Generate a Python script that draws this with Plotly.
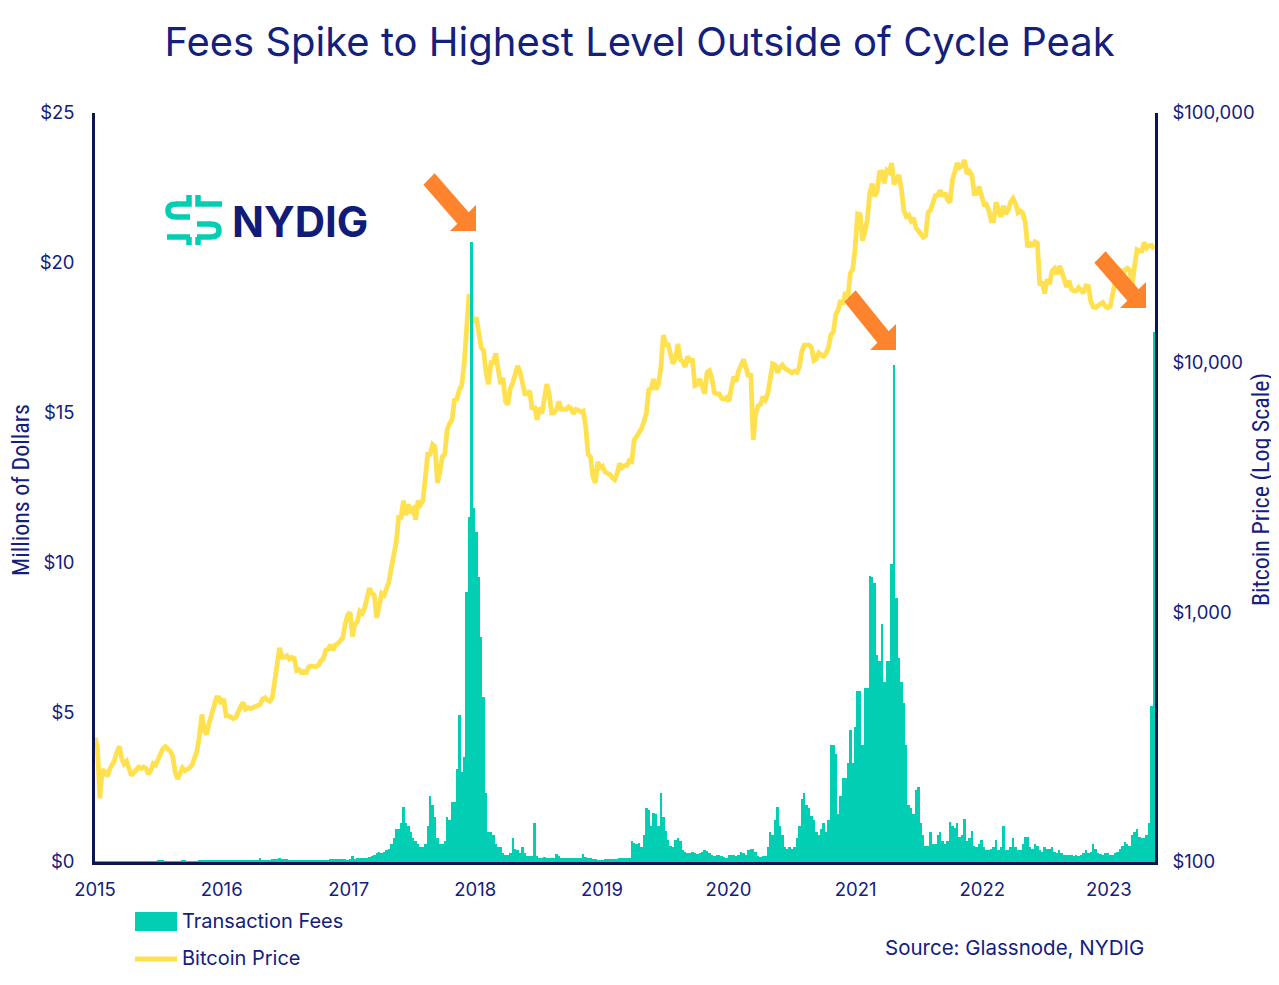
import pandas as pd
import plotly.graph_objects as go

# ---------------- data (weekly samples, first week starting 2015-01-01) ----------------
fees_2015 = [0.02, 0.03, 0.03, 0.02, 0.02, 0.02, 0.02, 0.02, 0.02, 0.02,
             0.03, 0.02, 0.02, 0.02, 0.02, 0.02, 0.02, 0.02, 0.02, 0.02,
             0.02, 0.02, 0.02, 0.03, 0.03, 0.03, 0.04, 0.05, 0.04, 0.03,
             0.03, 0.03, 0.03, 0.03, 0.03, 0.03, 0.04, 0.04, 0.03, 0.03,
             0.03, 0.03, 0.03, 0.04, 0.05, 0.04, 0.04, 0.04, 0.04, 0.05,
             0.05, 0.05]
fees_2016 = [0.05, 0.06, 0.06, 0.05, 0.05, 0.05, 0.06, 0.06, 0.07, 0.07,
             0.06, 0.06, 0.07, 0.07, 0.07, 0.08, 0.15, 0.08, 0.08, 0.08,
             0.08, 0.09, 0.09, 0.1, 0.12, 0.1, 0.09, 0.09, 0.08, 0.08,
             0.08, 0.08, 0.07, 0.07, 0.07, 0.07, 0.07, 0.07, 0.07, 0.07,
             0.07, 0.07, 0.08, 0.08, 0.08, 0.09, 0.09, 0.09, 0.1, 0.1,
             0.1, 0.1]
fees_2017 = [0.08, 0.1, 0.2, 0.1, 0.12, 0.12, 0.13, 0.15, 0.15, 0.18,
             0.2, 0.25, 0.3, 0.32, 0.3, 0.35, 0.4, 0.45,
             0.6, 0.8, 1.1, 1.1, 1.3, 1.85, 1.3, 1.2, 1.0, 0.8,
             0.7, 0.6, 0.5, 0.5, 0.6, 1.2, 2.2, 1.9, 1.5, 0.8,
             0.6, 0.6, 0.7, 1.5, 1.4, 2.0, 2.0, 3.1, 4.9, 3.0,
             3.5, 9.0, 11.5, 20.7]
fees_2018 = [11.8, 11.0, 9.5, 7.5, 5.5, 2.3, 1.0, 1.0, 0.9, 0.6,
             0.5, 0.5, 0.3, 0.25, 0.25, 0.3, 0.8, 0.45, 0.4, 0.3,
             0.5, 0.3, 0.2, 0.2, 0.2, 1.3, 0.2, 0.15, 0.15, 0.18,
             0.15, 0.14, 0.14, 0.14, 0.27, 0.2, 0.15, 0.14, 0.15, 0.14,
             0.13, 0.13, 0.14, 0.13, 0.13, 0.27, 0.18, 0.13, 0.12, 0.1,
             0.09, 0.08]
fees_2019 = [0.08, 0.08, 0.09, 0.09, 0.1, 0.1, 0.1, 0.11, 0.12, 0.13,
             0.14, 0.15, 0.15, 0.7, 0.65, 0.6, 0.65, 0.5, 0.9, 1.8,
             1.75, 1.2, 1.65, 1.6, 1.2, 2.3, 1.5, 1.05, 0.75, 0.55,
             0.5, 0.75, 0.8, 0.7, 0.4, 0.35, 0.3, 0.3, 0.32, 0.3,
             0.28, 0.3, 0.35, 0.4, 0.38, 0.3, 0.25, 0.2, 0.25, 0.22,
             0.2, 0.18]
fees_2020 = [0.15, 0.25, 0.22, 0.25, 0.2, 0.22, 0.35, 0.3, 0.25, 0.4,
             0.45, 0.45, 0.35, 0.2, 0.18, 0.2, 0.2, 0.5, 1.0, 0.9,
             1.4, 1.85, 1.2, 0.9, 0.5, 0.45, 0.5, 0.45, 0.5, 0.8,
             1.2, 2.1, 2.3, 1.9, 1.8, 1.55, 1.4, 1.0, 0.9, 1.1,
             1.3, 1.0, 1.4, 3.9, 3.9, 3.6, 1.6, 2.2, 2.8, 2.8,
             3.3, 4.4, 3.3]
fees_2021 = [4.5, 5.7, 5.7, 3.9, 5.8, 5.8, 9.55, 9.5, 9.3, 6.9,
             6.7, 7.95, 6.0, 6.7, 6.7, 9.95, 16.6, 8.8, 6.8, 6.0,
             5.3, 3.9, 1.9, 1.8, 1.6, 2.4, 2.5, 1.3, 0.9, 0.55,
             0.55, 1.0, 0.6, 0.6, 0.9, 1.0, 0.7, 0.6, 0.7, 1.35,
             1.2, 1.15, 1.3, 0.85, 0.9, 1.45, 0.7, 0.8, 1.05, 0.55,
             0.5, 0.6]
fees_2022 = [0.75, 0.5, 0.4, 0.4, 0.45, 0.5, 0.75, 0.4, 0.5, 1.2,
             0.4, 0.4, 0.5, 0.8, 0.5, 0.4, 0.4, 0.6, 0.85, 0.85,
             0.5, 0.45, 0.6, 0.55, 0.4, 0.35, 0.5, 0.45, 0.45, 0.5,
             0.35, 0.3, 0.4, 0.3, 0.25, 0.22, 0.22, 0.22, 0.2, 0.22,
             0.2, 0.22, 0.3, 0.4, 0.3, 0.35, 0.6, 0.45, 0.3, 0.28,
             0.25, 0.3]
fees_2023 = [0.3, 0.25, 0.25, 0.3, 0.35, 0.45, 0.55, 0.67, 0.6, 0.55,
             0.9, 1.0, 1.1, 0.85, 0.8, 0.8, 0.9, 1.3, 5.2, 17.7]

price_2015 = [315, 290, 180, 235, 230, 220, 235, 245, 255, 275,
              290, 260, 247, 253, 236, 222, 228, 235, 240, 237,
              240, 237, 225, 232, 248, 245, 258, 270, 285, 290,
              285, 278, 265, 230, 215, 230, 238, 232, 235, 238,
              245, 262, 278, 320, 390, 335, 325, 360, 385, 415,
              455, 455]
price_2016 = [430, 450, 385, 385, 380, 375, 380, 405, 420, 435,
              410, 415, 412, 415, 418, 422, 428, 450, 455, 445,
              440, 455, 530, 575, 720, 660, 660, 670, 650, 660,
              655, 585, 590, 575, 580, 575, 605, 610, 605, 605,
              615, 640, 650, 705, 710, 740, 705, 740, 750, 770,
              790, 895]
price_2017 = [975, 1000, 800, 900, 915, 1010, 990, 1040, 1170, 1250,
              1190, 1170, 950, 1040, 1190, 1170, 1230, 1320, 1510, 1720,
              1900, 2400, 2400, 2800, 2450, 2700, 2550, 2600, 2350, 2800,
              2700, 2800, 3400, 4300, 4300, 4700, 4600, 3300, 3650, 4200,
              4300, 5400, 5700, 5900, 7100, 7150, 7800, 8100, 9900, 13700,
              18800, 15500]
price_2018 = [14500, 15200, 13400, 11500, 11200, 9100, 8200, 10000, 10000, 10900,
              9400, 8200, 8700, 7000, 6800, 7900, 8300, 8900, 9700, 9200,
              8100, 7500, 7500, 7700, 6500, 6700, 5900, 6600, 6250, 7400,
              8200, 7500, 6300, 6300, 6500, 7000, 6500, 6500, 6500, 6650,
              6550, 6250, 6500, 6450, 6350, 6400, 5600, 4300, 4200, 3500,
              3300, 4000]
price_2019 = [3800, 3850, 3650, 3600, 3570, 3450, 3400, 3600, 3950, 3800,
              3870, 3870, 4050, 4020, 4900, 5050, 5250, 5450, 5800, 6300,
              7800, 7900, 8600, 7800, 8200, 9600, 12900, 11900, 11800, 10600,
              9900, 10400, 11900, 10300, 10100, 9600, 10600, 10200, 10200, 8100,
              8200, 8600, 8000, 7500, 9150, 9300, 8650, 7600, 7500, 7500,
              7200, 7150]
price_2020 = [7250, 7000, 7900, 8800, 8400, 9300, 9750, 10300, 9600, 8800,
              9050, 4900, 6200, 6700, 6800, 7300, 7100, 7500, 8600, 9900,
              9800, 9100, 9600, 9800, 9500, 9400, 9250, 9100, 9250, 9150,
              9600, 11100, 11750, 11800, 11750, 11500, 10200, 10350, 10950, 10750,
              10600, 10900, 11500, 12950, 13250, 15600, 16300, 17800, 17100, 19200,
              18250, 22800, 23700]
price_2021 = [29000, 39500, 39200, 30800, 33400, 37600, 47900, 52100, 46400, 48500,
              57800, 58000, 52300, 59000, 58000, 63000, 51700, 53800, 56500, 49700,
              40700, 38500, 39000, 37000, 38000, 34700, 33500, 32800, 31800, 32300,
              40000, 40800, 44500, 46700, 46900, 49000, 46300, 47800, 44800, 43800,
              53800, 57500, 63000, 60500, 61500, 64800, 57000, 58500, 56500, 47500,
              47600, 50800]
price_2022 = [47100, 43000, 43100, 40700, 37000, 37000, 43900, 40500, 38300, 42500,
              39400, 40900, 44000, 45500, 43500, 39900, 40500, 39700, 36500, 29000,
              30300, 29200, 30500, 30100, 20400, 21100, 18900, 21600, 20600, 23200,
              23800, 22600, 24400, 23300, 21500, 20100, 21300, 19700, 19400, 19400,
              20000, 19400, 19000, 20300, 20200, 17600, 16700, 16600, 17000, 17200,
              17400, 16800]
price_2023 = [16600, 16800, 18800, 21100, 23000, 23700, 21800, 23500, 23900, 23500,
              20400, 24300, 28300, 28000, 28000, 30300, 28800, 29400, 29500, 28500]

fee_tickvals = [0, 5, 10, 15, 20, 25]
fee_ticktext = ["$0", "$5", "$10", "$15", "$20", "$25"]
price_tickvals = [100, 1000, 10000, 100000]
price_ticktext = ["$100", "$1,000", "$10,000", "$100,000"]
year_ticks = ["2015-01-01", "2016-01-01", "2017-01-01", "2018-01-01", "2019-01-01",
              "2020-01-01", "2021-01-01", "2022-01-01", "2023-01-01"]
year_labels = ["2015", "2016", "2017", "2018", "2019", "2020", "2021", "2022", "2023"]

fees = (fees_2015 + fees_2016 + fees_2017 + fees_2018 + fees_2019 +
        fees_2020 + fees_2021 + fees_2022 + fees_2023)
price = (price_2015 + price_2016 + price_2017 + price_2018 + price_2019 +
         price_2020 + price_2021 + price_2022 + price_2023)
fee_dates = pd.date_range("2015-01-01", periods=len(fees), freq="7D")
price_dates = pd.date_range("2015-01-01", periods=len(price), freq="7D")

# ---------------- style ----------------
OFF = 8                      # page body margin of the html file
W, H = 1279 - OFF, 985 - OFF
L, R, T, B = 95, 1155, 113, 862   # plot area in page pixels
NAVY = "#13207E"
AXIS = "#0B1650"
TEAL = "#02CEB3"
YELLOW = "#FFE14F"
ORANGE = "#FD842C"
FONT = "Inter, Roboto, sans-serif"
NARROW = "Liberation Sans Narrow, Roboto Condensed, Roboto, sans-serif"


def px(x):
    return (x - L) / (R - L)


def py(y):
    return (B - y) / (B - T)


def pts_path(points, close=True):
    s = "M " + " L ".join(f"{px(a):.5f},{py(b):.5f}" for a, b in points)
    return s + (" Z" if close else "")


def arrow_path(tail, tip, head=26, half=8):
    tx, ty = tip
    sx, sy = tail
    mx, my = tx - head / 2, ty - head / 2
    k = half / 2 ** 0.5
    pts = [(sx + k, sy - k), (mx + k, my - k), (tx, ty - head), (tx, ty),
           (tx - head, ty), (mx - k, my + k), (sx - k, sy + k)]
    return pts_path(pts)


fig = go.Figure()
fig.add_trace(go.Scatter(x=price_dates, y=price, yaxis="y", mode="lines",
                         line=dict(color=YELLOW, width=4.8), name="Bitcoin Price",
                         showlegend=False, hoverinfo="skip"))
fig.add_trace(go.Bar(x=fee_dates, y=fees, yaxis="y2", name="Transaction Fees",
                     marker=dict(color=TEAL, line=dict(width=0)),
                     showlegend=False))

shapes = []
# arrows
for tail, tip in [((429, 179), (476, 231)), ((850, 296), (896, 350)), ((1100, 257), (1146, 308))]:
    shapes.append(dict(type="path", xref="paper", yref="paper", path=arrow_path(tail, tip),
                       fillcolor=ORANGE, line=dict(width=0), layer="above"))

# logo icon (stroked paths)
logo_paths = [
    [(189, 195), (189, 204), (176, 204)],
    [(198, 195), (198, 204), (222, 204)],
    [(197, 224), (211, 224)],
    [(189, 237), (189, 245)],
    [(198, 237), (198, 245)],
    [(167, 237), (190, 237)],
]
for p in logo_paths:
    shapes.append(dict(type="path", xref="paper", yref="paper", path=pts_path(p, close=False),
                       line=dict(color=TEAL, width=5.5)))
curve1 = (f"M {px(177):.5f},{py(204):.5f} Q {px(168):.5f},{py(204):.5f} {px(168):.5f},{py(210.5):.5f} "
          f"Q {px(168):.5f},{py(217):.5f} {px(177):.5f},{py(217):.5f} L {px(190):.5f},{py(217):.5f}")
curve2 = (f"M {px(210):.5f},{py(224):.5f} Q {px(219):.5f},{py(224):.5f} {px(219):.5f},{py(230.5):.5f} "
          f"Q {px(219):.5f},{py(237):.5f} {px(210):.5f},{py(237):.5f} L {px(197):.5f},{py(237):.5f}")
for c in (curve1, curve2):
    shapes.append(dict(type="path", xref="paper", yref="paper", path=c,
                       line=dict(color=TEAL, width=5.5)))

# custom legend marks
shapes.append(dict(type="rect", xref="paper", yref="paper",
                   x0=px(135), x1=px(177), y0=py(931), y1=py(912),
                   fillcolor=TEAL, line=dict(width=0)))
shapes.append(dict(type="line", xref="paper", yref="paper",
                   x0=px(135), x1=px(177), y0=py(959), y1=py(959),
                   line=dict(color=YELLOW, width=5)))

annotations = [
    dict(text="<b>NYDIG</b>", xref="paper", yref="paper", x=px(230), y=py(222),
         xanchor="left", yanchor="middle", showarrow=False,
         font=dict(family=FONT, size=42, color="#101C78")),
    dict(text="Millions of Dollars", xref="paper", yref="paper", x=px(21), y=py(490),
         xanchor="center", yanchor="middle", textangle=-90, showarrow=False,
         font=dict(family=NARROW, size=24, color=NAVY)),
    dict(text="Bitcoin Price (Log Scale)", xref="paper", yref="paper", x=px(1261), y=py(490),
         xanchor="center", yanchor="middle", textangle=-90, showarrow=False,
         font=dict(family=NARROW, size=24, color=NAVY)),
    dict(text="Transaction Fees", xref="paper", yref="paper", x=px(180), y=py(921),
         xanchor="left", yanchor="middle", showarrow=False,
         font=dict(family=FONT, size=20, color=NAVY)),
    dict(text="Bitcoin Price", xref="paper", yref="paper", x=px(180), y=py(958),
         xanchor="left", yanchor="middle", showarrow=False,
         font=dict(family=FONT, size=20, color=NAVY)),
    dict(text="Source: Glassnode, NYDIG", xref="paper", yref="paper", x=px(1146), y=py(947),
         xanchor="right", yanchor="middle", showarrow=False,
         font=dict(family=FONT, size=20.5, color=NAVY)),
]

fig.update_layout(
    width=W, height=H,
    margin=dict(l=L - OFF, r=W - (R - OFF), t=T - OFF, b=H - (B - OFF), pad=0),
    paper_bgcolor="white", plot_bgcolor="white",
    font=dict(family=FONT, color=NAVY),
    title=dict(text="Fees Spike to Highest Level Outside of Cycle Peak",
               x=(639.5 - OFF) / W, xanchor="center", y=1 - (42 - OFF) / H, yanchor="middle",
               font=dict(family=FONT, size=40, color=NAVY)),
    bargap=0,
    showlegend=False,
    xaxis=dict(type="date", range=["2015-01-01", "2023-05-14"],
               tickvals=year_ticks, ticktext=year_labels, ticks="",
               showline=True, linecolor=AXIS, linewidth=2.5, showgrid=False, zeroline=False,
               tickfont=dict(family=FONT, size=18.5, color=NAVY), ticklabelstandoff=9),
    yaxis=dict(type="log", side="right", range=[2, 5],
               tickvals=price_tickvals, ticktext=price_ticktext, ticks="",
               showline=True, linecolor=AXIS, linewidth=2.5, showgrid=False, zeroline=False,
               tickfont=dict(family=FONT, size=18.5, color=NAVY), ticklabelstandoff=11),
    yaxis2=dict(overlaying="y", side="left", range=[0, 25],
                tickvals=fee_tickvals, ticktext=fee_ticktext, ticks="",
                showline=True, linecolor=AXIS, linewidth=2.5, showgrid=False, zeroline=False,
                tickfont=dict(family=FONT, size=18.5, color=NAVY), ticklabelstandoff=14),
    shapes=shapes,
    annotations=annotations,
)

fig.write_html("out.html")
